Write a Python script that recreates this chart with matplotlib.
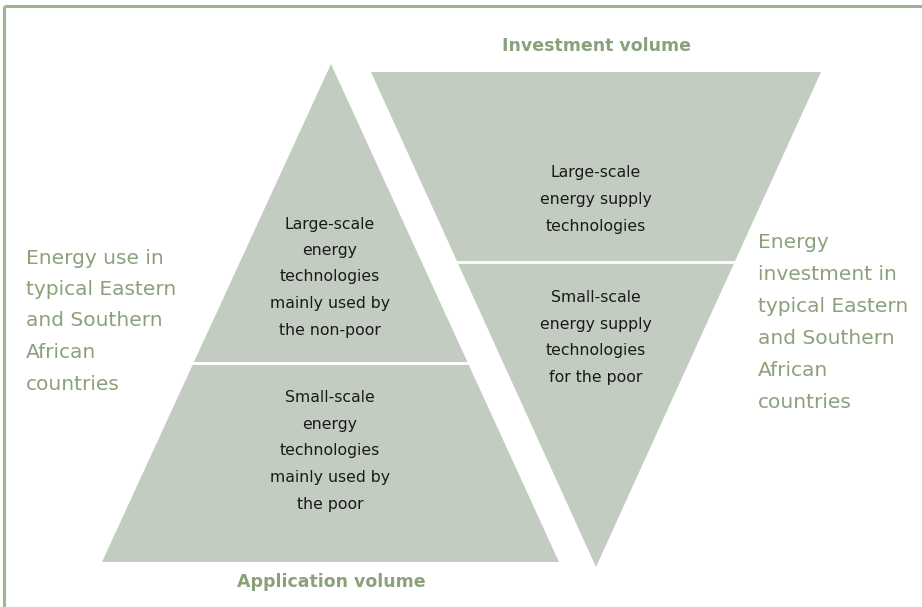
import matplotlib
matplotlib.use("Agg")
import matplotlib.pyplot as plt
from matplotlib.patches import Polygon

# ---- content ----
top_title = "Investment volume"
bottom_title = "Application volume"
left_caption = ["Energy use in", "typical Eastern", "and Southern", "African", "countries"]
right_caption = ["Energy", "investment in", "typical Eastern", "and Southern", "African", "countries"]
pyramid_labels = [
    ["Large-scale", "energy", "technologies", "mainly used by", "the non-poor"],
    ["Small-scale", "energy", "technologies", "mainly used by", "the poor"],
]
funnel_labels = [
    ["Large-scale", "energy supply", "technologies"],
    ["Small-scale", "energy supply", "technologies", "for the poor"],
]

FILL = "#c3ccc1"
GREEN = "#8ba17c"
FONT = ["DejaVu Sans"]

W, H = 922, 607
fig = plt.figure(figsize=(W / 100, H / 100), dpi=100)
ax = fig.add_axes([0, 0, 1, 1])
ax.set_xlim(0, W)
ax.set_ylim(H, 0)
ax.axis("off")

# frame (top and left edges)
ax.plot([4, W], [6, 6], color="#9db592", lw=2.2, solid_capstyle="butt")
ax.plot([4, 4], [6, H], color="#9db592", lw=2.2, solid_capstyle="butt")

# pyramid (application volume)
apex = (331, 64)
bl, br = (102, 562), (559, 562)
ax.add_patch(Polygon([apex, br, bl], closed=True, fc=FILL, ec="none"))
div_y = 363
f = (div_y - apex[1]) / (bl[1] - apex[1])
xl = apex[0] + (bl[0] - apex[0]) * f
xr = apex[0] + (br[0] - apex[0]) * f
ax.plot([xl - 2, xr + 2], [div_y, div_y], color="white", lw=2)

# funnel (investment volume)
tl, tr = (371, 72), (821, 72)
bot = (596, 567)
ax.add_patch(Polygon([tl, tr, bot], closed=True, fc=FILL, ec="none"))
div_y2 = 262
g = (div_y2 - tl[1]) / (bot[1] - tl[1])
xl2 = tl[0] + (bot[0] - tl[0]) * g
xr2 = tr[0] + (bot[0] - tr[0]) * g
ax.plot([xl2 - 2, xr2 + 2], [div_y2, div_y2], color="white", lw=2)

def block(lines, x, y0, dy, **kw):
    for i, s in enumerate(lines):
        ax.text(x, y0 + i * dy, s, family=FONT, **kw)

inner = dict(fontsize=11.3, color="#1a1a1a", ha="center", va="center")
block(pyramid_labels[0], 330, 224, 26.5, **inner)
block(pyramid_labels[1], 330, 398, 26.5, **inner)
block(funnel_labels[0], 596, 173, 26.5, **inner)
block(funnel_labels[1], 596, 298, 26.5, **inner)

side = dict(fontsize=14.5, color=GREEN, ha="left", va="center")
block(left_caption, 26, 258, 31.5, **side)
block(right_caption, 758, 242, 32, **side)

ax.text(596, 46, top_title, family=FONT, fontsize=12.5, fontweight="bold",
        color=GREEN, ha="center", va="center")
ax.text(331, 582, bottom_title, family=FONT, fontsize=12.5, fontweight="bold",
        color=GREEN, ha="center", va="center")

fig.savefig("out.png", dpi=100)
